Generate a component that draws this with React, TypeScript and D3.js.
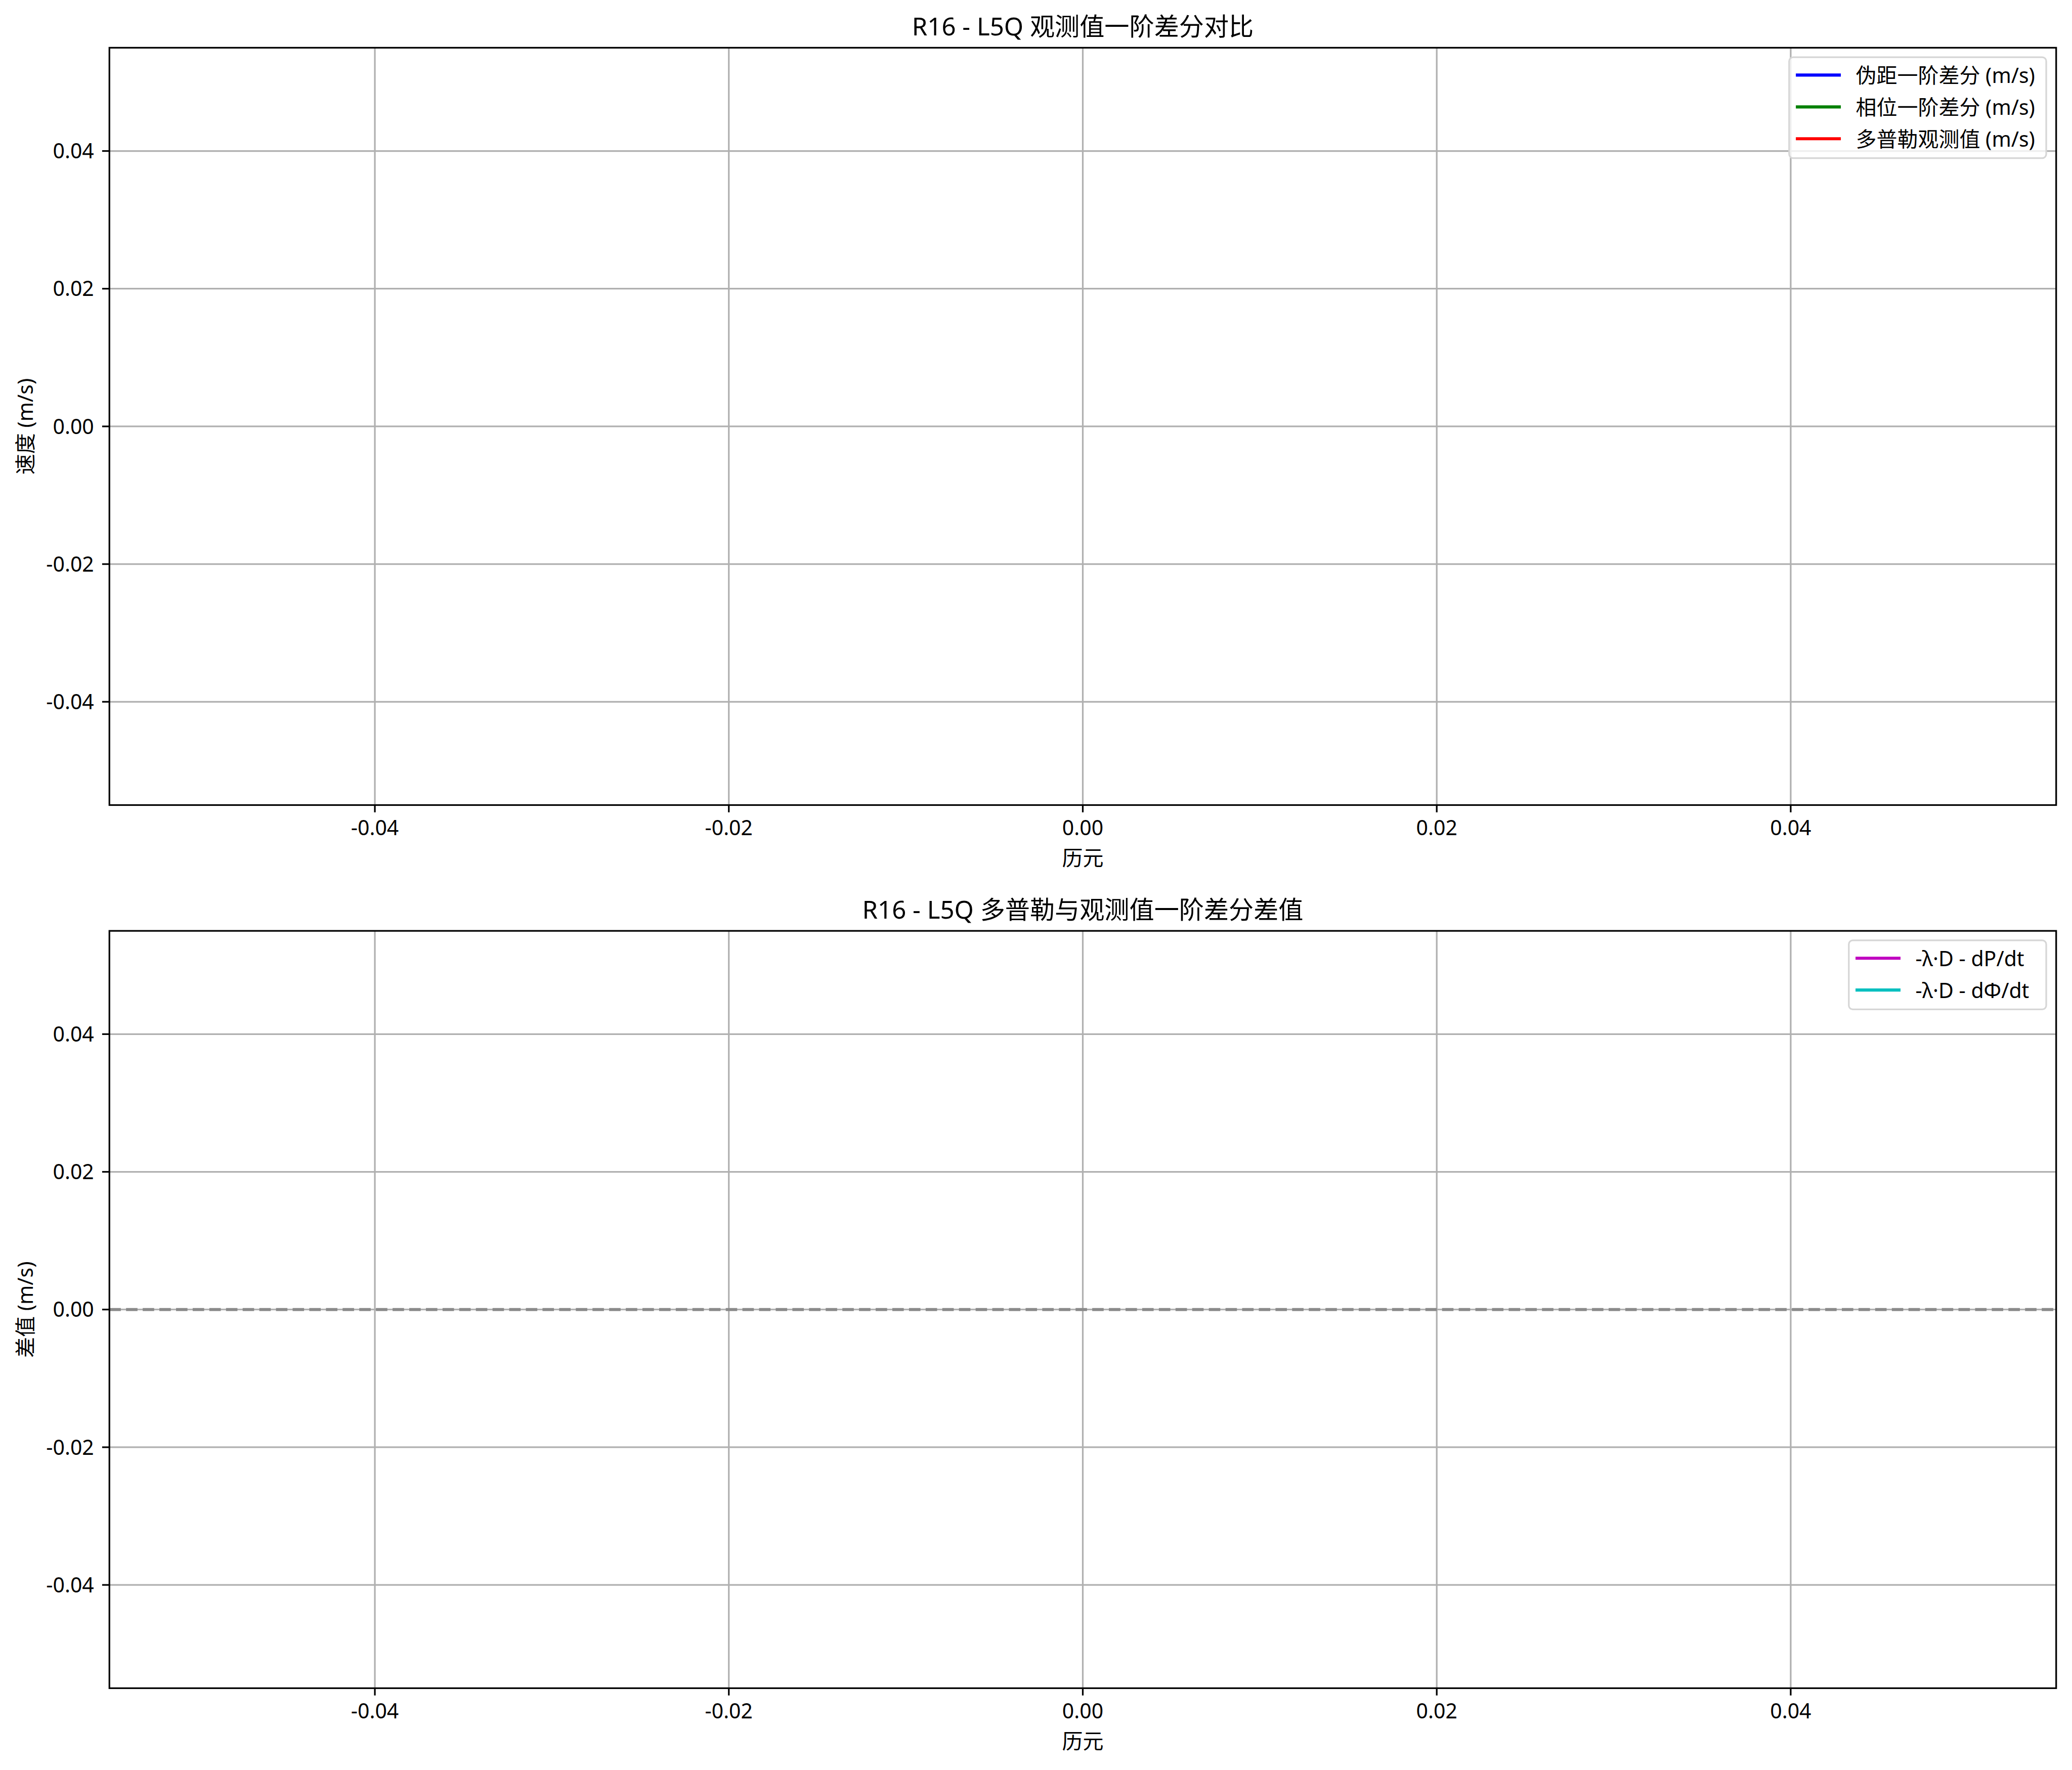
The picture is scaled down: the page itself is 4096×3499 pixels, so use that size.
import React, { useEffect } from "react";
import * as d3 from "d3";

// no observations for this satellite/signal -> both panels are empty
const epochs: number[] = [];
const pseudorangeRate: number[] = [];
const phaseRate: number[] = [];
const dopplerVelocity: number[] = [];
const dopplerMinusPseudorange: number[] = [];
const dopplerMinusPhase: number[] = [];

const xTicks = [-0.04, -0.02, 0, 0.02, 0.04];
const yTicks = [-0.04, -0.02, 0, 0.02, 0.04];
const axisDomain: [number, number] = [-0.055, 0.055];

const topSeriesNames = ["伪距一阶差分 (m/s)", "相位一阶差分 (m/s)", "多普勒观测值 (m/s)"];
const topSeriesColors = ["#0000ff", "#008000", "#ff0000"];
const bottomSeriesNames = ["-λ·D - dP/dt", "-λ·D - dΦ/dt"];
const bottomSeriesColors = ["#bf00bf", "#00bfbf"];

const W = 4165;
const H = 3558;
const S = 0.983;
const FONT = "'Noto Sans', 'Noto Sans CJK SC', sans-serif";
const FS = 41.7;
const LEFT = 220;
const RIGHT = 4135;
const PANEL_H = 1523;

const fmt = (v: number) => (Math.abs(v) < 1e-12 ? 0 : v).toFixed(2);

type Series = { name: string; color: string; values: number[] };

const Panel: React.FC<{
  top: number;
  title: string;
  yLabel: string;
  series: Series[];
  legendLeft: number;
  zeroLine?: boolean;
}> = ({ top, title, yLabel, series, legendLeft, zeroLine }) => {
  const bottom = top + PANEL_H;
  const x = d3.scaleLinear().domain(axisDomain).range([LEFT, RIGHT]);
  const y = d3.scaleLinear().domain(axisDomain).range([bottom, top]);
  const line = d3
    .line<[number, number]>()
    .x((d) => x(d[0]))
    .y((d) => y(d[1]));

  const legendTop = top + 19;
  const legendRight = 4115;
  const rowH = 64;

  return (
    <g>
      {/* grid */}
      {xTicks.map((t) => (
        <line key={"gx" + t} x1={x(t)} x2={x(t)} y1={top} y2={bottom} stroke="#b0b0b0" strokeWidth={3.3} />
      ))}
      {yTicks.map((t) => (
        <line key={"gy" + t} x1={LEFT} x2={RIGHT} y1={y(t)} y2={y(t)} stroke="#b0b0b0" strokeWidth={3.3} />
      ))}

      {series.map((s) => (
        <path
          key={s.name}
          d={line(epochs.map((e, i) => [e, s.values[i]] as [number, number])) || ""}
          fill="none"
          stroke={s.color}
          strokeWidth={6.25}
        />
      ))}

      {zeroLine && (
        <line x1={LEFT} x2={RIGHT} y1={y(0)} y2={y(0)} stroke="#8a8a8a" strokeWidth={6} strokeDasharray="23 10.5" />
      )}

      {/* frame */}
      <rect x={LEFT} y={top} width={RIGHT - LEFT} height={PANEL_H} fill="none" stroke="#000" strokeWidth={3.3} />

      {/* x ticks */}
      {xTicks.map((t) => (
        <g key={"tx" + t}>
          <line x1={x(t)} x2={x(t)} y1={bottom} y2={bottom + 14.6} stroke="#000" strokeWidth={3.3} />
          <text x={x(t)} y={bottom + 61} textAnchor="middle" fontSize={FS} fontFamily={FONT}>
            {fmt(t)}
          </text>
        </g>
      ))}
      {/* y ticks */}
      {yTicks.map((t) => (
        <g key={"ty" + t}>
          <line x1={LEFT - 14.6} x2={LEFT} y1={y(t)} y2={y(t)} stroke="#000" strokeWidth={3.3} />
          <text x={LEFT - 31} y={y(t) + 15} textAnchor="end" fontSize={FS} fontFamily={FONT}>
            {fmt(t)}
          </text>
        </g>
      ))}

      <text x={(LEFT + RIGHT) / 2} y={top - 25} textAnchor="middle" fontSize={50} fontFamily={FONT}>
        {title}
      </text>
      <text x={(LEFT + RIGHT) / 2} y={bottom + 122} textAnchor="middle" fontSize={FS} fontFamily={FONT}>
        历元
      </text>
      <text
        transform={`translate(50,${(top + bottom) / 2}) rotate(-90)`}
        textAnchor="middle"
        dominantBaseline="central"
        fontSize={FS}
        fontFamily={FONT}
      >
        {yLabel}
      </text>

      {/* legend */}
      <rect
        x={legendLeft}
        y={legendTop}
        width={legendRight - legendLeft}
        height={rowH * series.length + 11}
        rx={8}
        fill="#fff"
        fillOpacity={0.8}
        stroke="#d6d6d6"
        strokeWidth={3.3}
      />
      {series.map((s, i) => {
        const cy = legendTop + 36 + i * rowH;
        return (
          <g key={"lg" + s.name}>
            <line x1={legendLeft + 13.5} x2={legendLeft + 104} y1={cy} y2={cy} stroke={s.color} strokeWidth={6.25} />
            <text x={legendLeft + 134} y={cy} dominantBaseline="central" fontSize={FS} fontFamily={FONT}>
              {s.name}
            </text>
          </g>
        );
      })}
    </g>
  );
};

const App: React.FC = () => {
  useEffect(() => {
    document.body.style.margin = "0";
  }, []);

  const topSeries: Series[] = [pseudorangeRate, phaseRate, dopplerVelocity].map((values, i) => ({
    name: topSeriesNames[i],
    color: topSeriesColors[i],
    values,
  }));
  const bottomSeries: Series[] = [dopplerMinusPseudorange, dopplerMinusPhase].map((values, i) => ({
    name: bottomSeriesNames[i],
    color: bottomSeriesColors[i],
    values,
  }));

  return (
    <svg width={W * S} height={H * S} style={{ display: "block", background: "#fff" }}>
      <g transform={`scale(${S})`}>
        <rect x={0} y={0} width={W} height={H} fill="#fff" />
        <Panel top={96} title="R16 - L5Q 观测值一阶差分对比" yLabel="速度 (m/s)" series={topSeries} legendLeft={3598} />
        <Panel
          top={1872}
          title="R16 - L5Q 多普勒与观测值一阶差分差值"
          yLabel="差值 (m/s)"
          series={bottomSeries}
          legendLeft={3718}
          zeroLine
        />
      </g>
    </svg>
  );
};

export default App;
